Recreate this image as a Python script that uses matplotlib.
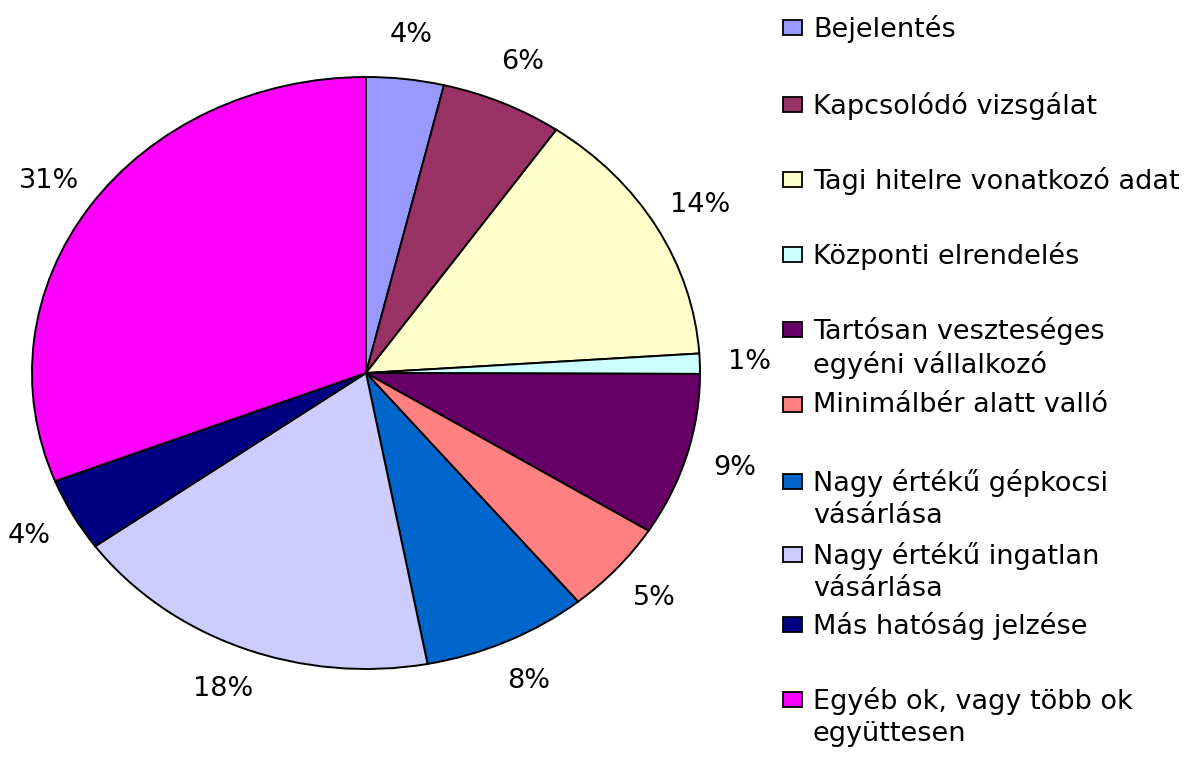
import matplotlib.pyplot as plt
from matplotlib.patches import Rectangle

plt.rcParams['font.family'] = ['DejaVu Sans']

# Slice data (clockwise from 12 o'clock)
labels = [
    'Bejelentés',
    'Kapcsolódó vizsgálat',
    'Tagi hitelre vonatkozó adat',
    'Központi elrendelés',
    'Tartósan veszteséges\negyéni vállalkozó',
    'Minimálbér alatt valló',
    'Nagy értékű gépkocsi\nvásárlása',
    'Nagy értékű ingatlan\nvásárlása',
    'Más hatóság jelzése',
    'Egyéb ok, vagy több ok\negyüttesen',
]
shares = [3.75, 5.9, 14.3, 1.1, 8.9, 5.1, 8.0, 18.0, 4.0, 30.95]
colors = ['#9999FF', '#993366', '#FFFFCC', '#CCFFFF', '#660066',
          '#FF8080', '#0066CC', '#CCCCFF', '#000080', '#FF00FF']

W, H = 1195, 758
FS = 19.5
fig = plt.figure(figsize=(W / 100, H / 100), dpi=100)

# pie axes (ellipse comes from the non-square axes box)
ax = fig.add_axes([32 / W, (H - 669) / H, 668 / W, 592 / H])
wedges, texts, pcts = ax.pie(
    shares, colors=colors, startangle=90, counterclock=False,
    autopct='%.0f%%', pctdistance=1.15,
    wedgeprops=dict(edgecolor='black', linewidth=1.4),
    textprops=dict(fontsize=FS, color='black'))
ax.set_aspect('auto')
ax.set_xlim(-1, 1)
ax.set_ylim(-1, 1)
ax.axis('off')

# legend drawn by hand, in pixel coordinates
lg = fig.add_axes([0, 0, 1, 1])
lg.set_xlim(0, W)
lg.set_ylim(H, 0)
lg.axis('off')
cap_top = [18, 95, 170, 245, 320, 395, 472, 545, 615, 690]
for y, lab, c in zip(cap_top, labels, colors):
    lg.add_patch(Rectangle((783, y + 2), 19, 15, facecolor=c,
                           edgecolor='black', linewidth=1.3))
    lg.text(813, y - 3, lab, fontsize=FS, va='top', ha='left',
            linespacing=1.29)

fig.savefig('out.png', dpi=100)
